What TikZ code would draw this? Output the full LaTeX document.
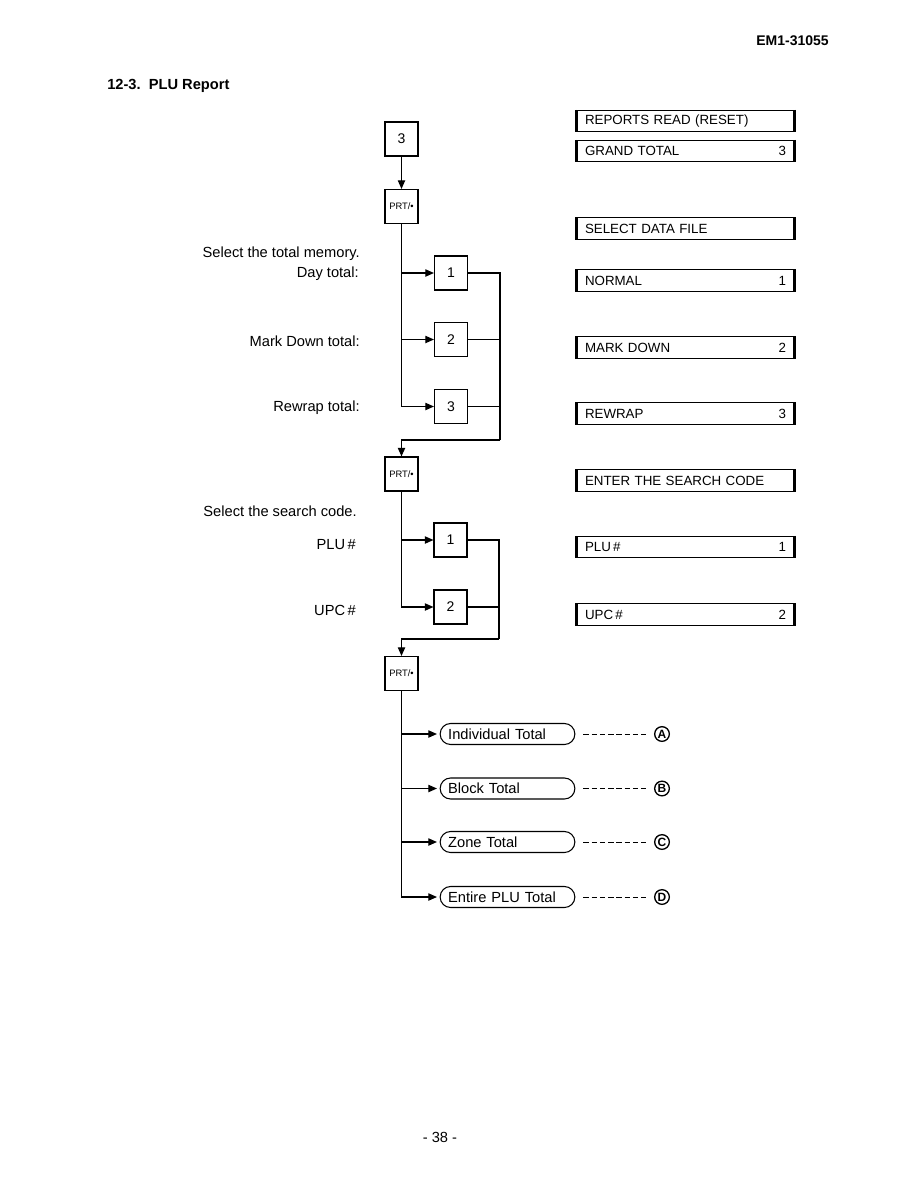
\documentclass[tikz,border=0pt]{standalone}
\usepackage{fontspec}
\setmainfont{Liberation Sans}
\usetikzlibrary{arrows.meta}
\begin{document}
\begin{tikzpicture}[x=0.75pt,y=-0.75pt,
  every node/.style={font=\fontsize{11}{13}\selectfont},
  line/.style={line width=0.9pt},
  arr/.style={line width=0.9pt,-{Triangle[length=6.5pt,width=5.5pt]}},
  keybox/.style={draw,line width=0.8pt,minimum width=24.75pt,minimum height=25.5pt,inner sep=0pt,font=\fontsize{10.5}{12}\selectfont},
  prtbox/.style={keybox,font=\fontsize{7}{8}\selectfont},
  disp/.style={draw,line width=0.8pt,minimum height=16pt,text width=150.75pt,inner xsep=6pt,inner ysep=0pt,align=left,font=\fontsize{10}{12}\selectfont},
  oval/.style={draw,line width=0.8pt,rounded corners=7.8pt,minimum height=15.75pt,text width=89pt,inner xsep=6pt,inner ysep=0pt,align=left,font=\fontsize{11}{12}\selectfont},
  circ/.style={circle,draw,line width=1pt,minimum size=11pt,inner sep=0pt,font=\bfseries\fontsize{9}{9}\selectfont},
  dashline/.style={line width=0.7pt,dash pattern=on 4pt off 2.2pt,shorten <=6pt,shorten >=6pt},
  lbl/.style={anchor=east,inner sep=0pt}
]
\useasboundingbox (0,0) rectangle (918,1188);

% header / title / footer
\node[anchor=east,inner sep=0pt,font=\bfseries\fontsize{10.5}{12}\selectfont] (hdr) at (829,41) {EM1-31055};
\node[anchor=west,inner sep=0pt,font=\bfseries\fontsize{11}{13}\selectfont] (title) at (107,86) {12-3.\ \ PLU Report};
\node[inner sep=0pt] (pg) at (440,1137) {- 38 -};

% keys
\node[keybox] (k0) at (401.5,139) {3};
\node[prtbox] (p1) at (401.5,206.5) {PRT/•};
\node[keybox] (k1) at (451,273) {1};
\node[keybox] (k2) at (451,339.5) {2};
\node[keybox] (k3) at (451,406.5) {3};
\node[prtbox] (p2) at (401.5,474) {PRT/•};
\node[keybox] (m1) at (450.5,540) {1};
\node[keybox] (m2) at (450.5,607) {2};
\node[prtbox] (p3) at (401.5,673.5) {PRT/•};

\coordinate (j1) at (500,440);
\coordinate (j2) at (499,639);

% connectors
\draw[arr] (k0) -- (p1);
\draw[arr] (p1.south) |- (k3.west);
\draw[arr] (p1.south |- k1.west) -- (k1.west);
\draw[arr] (p1.south |- k2.west) -- (k2.west);
\draw[line] (k1.east) -| (j1);
\draw[line] (k2.east) -- (k2.east -| j1);
\draw[line] (k3.east) -- (k3.east -| j1);
\draw[arr] (j1) -| (p2.north);

\draw[arr] (p2.south) |- (m2.west);
\draw[arr] (p2.south |- m1.west) -- (m1.west);
\draw[line] (m1.east) -| (j2);
\draw[line] (m2.east) -- (m2.east -| j2);
\draw[arr] (j2) -| (p3.north);

% left labels
\node[lbl] (l1) at (360,254) {Select the total memory.};
\node[lbl] (l2) at (359,274) {Day total:};
\node[lbl] (l3) at (360,341) {Mark Down total:};
\node[lbl] (l4) at (360,408) {Rewrap total:};
\node[lbl] (l5) at (357,511) {Select the search code.};
\node[lbl] (l6) at (356,545) {PLU\,\#};
\node[lbl] (l7) at (356,610) {UPC\,\#};

% displays
\node[disp] (d1) at (685.5,121) {REPORTS READ (RESET)};
\node[disp] (d2) at (685.5,151) {GRAND TOTAL\hfill 3};
\node[disp] (d3) at (685.5,228.5) {SELECT DATA FILE};
\node[disp] (d4) at (685.5,280.5) {NORMAL\hfill 1};
\node[disp] (d5) at (685.5,347.5) {MARK DOWN\hfill 2};
\node[disp] (d6) at (685.5,413.5) {REWRAP\hfill 3};
\node[disp] (d7) at (685.5,480.5) {ENTER THE SEARCH CODE};
\node[disp] (d8) at (685.5,547) {PLU\,\#\hfill 1};
\node[disp] (d9) at (685.5,614.5) {UPC\,\#\hfill 2};
\foreach \d in {d1,d2,d3,d4,d5,d6,d7,d8,d9}{
  \draw[line width=1.5pt] (\d.north west) -- (\d.south west);
  \draw[line width=1.5pt] (\d.north east) -- (\d.south east);
}

% result ovals
\node[oval] (o1) at (507.5,734) {Individual Total};
\node[oval] (o2) at (507.5,788.5) {Block Total};
\node[oval] (o3) at (507.5,842) {Zone Total};
\node[oval] (o4) at (507.5,897) {Entire PLU Total};

\draw[arr,shorten >=2pt] (p3.south) |- (o4.west);
\draw[arr,shorten >=2pt] (p3.south |- o1.west) -- (o1.west);
\draw[arr,shorten >=2pt] (p3.south |- o2.west) -- (o2.west);
\draw[arr,shorten >=2pt] (p3.south |- o3.west) -- (o3.west);

\node[circ] (c1) at (662,734) {A};
\node[circ] (c2) at (662,788.5) {B};
\node[circ] (c3) at (662,842) {C};
\node[circ] (c4) at (662,897) {D};

\draw[dashline] (o1.east) -- (c1.west);
\draw[dashline] (o2.east) -- (c2.west);
\draw[dashline] (o3.east) -- (c3.west);
\draw[dashline] (o4.east) -- (c4.west);
\end{tikzpicture}
\end{document}
